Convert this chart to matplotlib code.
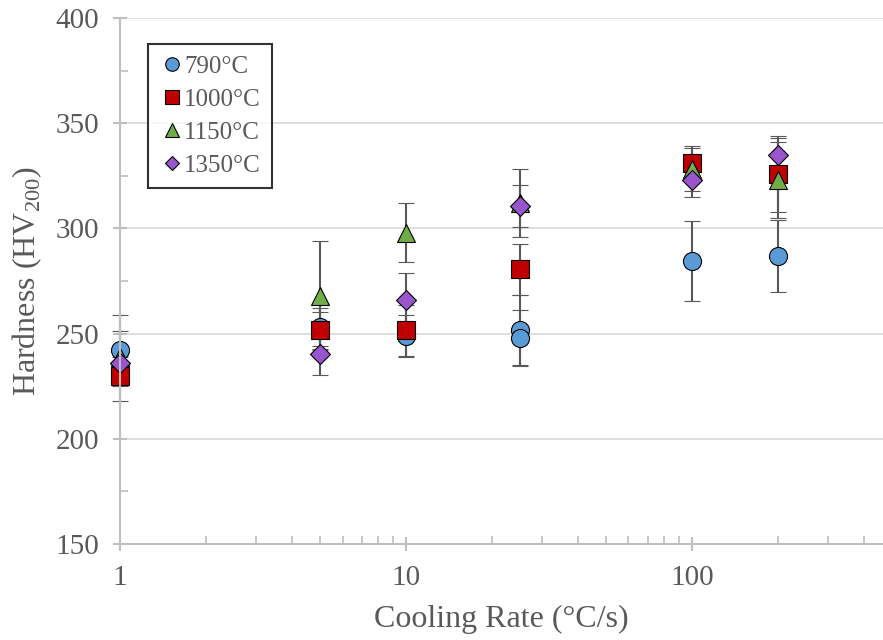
import matplotlib.pyplot as plt
from matplotlib.ticker import FixedLocator, NullFormatter
import numpy as np

plt.rcParams['font.family'] = ['Liberation Serif', 'DejaVu Serif']
plt.rcParams['mathtext.fontset'] = 'custom'
plt.rcParams['mathtext.rm'] = 'Liberation Serif'

# data
rate_790 = [1, 5, 10, 25, 25, 100, 200]
hv_790 = [242, 253, 249, 251.5, 248, 284.5, 287]
err_790 = [17, 9, 10, 17, 13, 19, 17]

rate_1000 = [1, 5, 10, 25, 100, 200]
hv_1000 = [230, 251.5, 251.5, 280.5, 331, 326]
err_1000 = [12, 9, 12, 12, 8, 18]

rate_1150 = [1, 5, 10, 25, 100, 200]
hv_1150 = [239, 268, 298, 312, 328, 323]
err_1150 = [12, 26, 14, 16, 10, 18]

rate_1350 = [1, 5, 10, 25, 100, 200]
hv_1350 = [236, 240.5, 266, 310.5, 323, 335]
err_1350 = [3, 10, 13, 10, 8, 8]

series = [
    ('790°C', rate_790, hv_790, err_790, 'o', '#5b9bd5', 13),
    ('1000°C', rate_1000, hv_1000, err_1000, 's', '#c00000', 13),
    ('1150°C', rate_1150, hv_1150, err_1150, '^', '#70ad47', 13),
    ('1350°C', rate_1350, hv_1350, err_1350, 'D', '#9955cc', 10),
]

fig = plt.figure(figsize=(8.83, 6.4), dpi=100)
ax = fig.add_axes([0.1359, 0.15, 0.8641, 0.8219])

handles = []
for label, x, y, e, m, c, ms in series:
    eb = ax.errorbar(x, y, yerr=e, fmt=m, color=c, markersize=ms,
                     markeredgecolor='black', markeredgewidth=0.8,
                     ecolor='#595959', elinewidth=1.5, capsize=6, capthick=1.5,
                     label=label)
    eb[0].set_clip_on(False)
    for part in eb[1] + eb[2]:
        part.set_clip_on(False)
    handles.append(eb[0])

ax.set_xscale('log')
ax.set_xlim(1, 466)
ax.set_ylim(150, 400)

ax.xaxis.set_major_locator(FixedLocator([1, 10, 100]))
ax.set_xticklabels(['1', '10', '100'])
minor_x = [k * 10 ** p for p in range(3) for k in range(2, 10)]
ax.xaxis.set_minor_locator(FixedLocator(minor_x))
ax.xaxis.set_minor_formatter(NullFormatter())
ax.set_yticks(np.arange(150, 401, 50))
ax.yaxis.set_minor_locator(FixedLocator(np.arange(175, 400, 50)))

ax.grid(axis='y', which='major', color='#d9d9d9', linewidth=1.2)
ax.set_axisbelow(True)
for s in ['top', 'right']:
    ax.spines[s].set_visible(False)
for s in ['left', 'bottom']:
    ax.spines[s].set_color('#bfbfbf')
    ax.spines[s].set_linewidth(1.5)

ax.tick_params(which='major', direction='inout', length=10, width=1.5,
               color='#bfbfbf', labelsize=21, labelcolor='#595959', pad=10)
ax.tick_params(which='minor', direction='in', length=6, width=1.2, color='#bfbfbf')

ax.set_xlabel('Cooling Rate (°C/s)', fontsize=23, color='#595959', labelpad=10)
ax.set_ylabel('Hardness (HV$_{200}$)', fontsize=23, color='#595959', labelpad=8)

leg = ax.legend(handles, [s[0] for s in series], loc='upper left',
                bbox_to_anchor=(0.0367, 0.9506), borderaxespad=0, fontsize=18,
                markerscale=0.75, handletextpad=0.0, handlelength=1.0,
                borderpad=0.45, labelspacing=0.42, fancybox=False, frameon=True)
leg.get_frame().set_edgecolor('black')
leg.get_frame().set_linewidth(1.5)
for t in leg.get_texts():
    t.set_color('#595959')

fig.savefig('out.png', dpi=100)
